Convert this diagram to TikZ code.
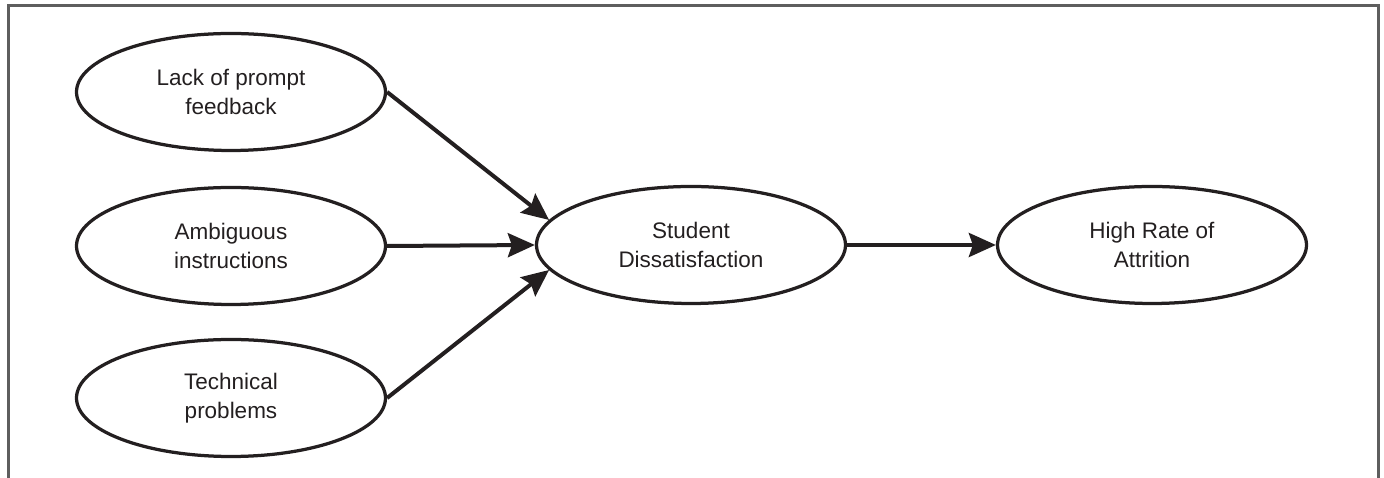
\documentclass[tikz,border=0pt]{standalone}
\usepackage{fontspec}
\setmainfont{Liberation Sans}
\usepackage{tikz}
\usetikzlibrary{shapes.geometric,arrows.meta}
\usepackage{xcolor}
\definecolor{framegray}{HTML}{5E5E5E}
\definecolor{inkblack}{HTML}{231F20}

\begin{document}
\begin{tikzpicture}[>={Stealth[length=5.4mm,width=4.8mm,inset=0.8mm]},
  factor/.style={draw=inkblack,ellipse,line width=0.065cm,minimum width=6.18cm,minimum height=2.34cm,inner sep=0pt,align=center,font=\fontsize{12.8}{16.5}\selectfont,text=inkblack},
  link/.style={->,draw=inkblack,line width=0.08cm}]
\useasboundingbox (0,0) rectangle (27.68,9.56);
\draw[framegray,line width=0.06cm] (0.16,0) -- (0.16,9.44) -- (27.56,9.44) -- (27.56,0);
\node[factor] (lack) at (4.62,7.72) {Lack of prompt\\feedback};
\node[factor] (amb) at (4.62,4.64) {Ambiguous\\instructions};
\node[factor] (tech) at (4.62,1.60) {Technical\\problems};
\node[factor] (stud) at (13.82,4.66) {Student\\Dissatisfaction};
\node[factor] (high) at (23.04,4.66) {High Rate of\\Attrition};
\draw[link] (lack.east) -- (stud.170);
\draw[link] (amb.east) -- (stud.west);
\draw[link] (tech.east) -- (stud.190);
\draw[link] (stud.east) -- (high.west);
\end{tikzpicture}
\end{document}
